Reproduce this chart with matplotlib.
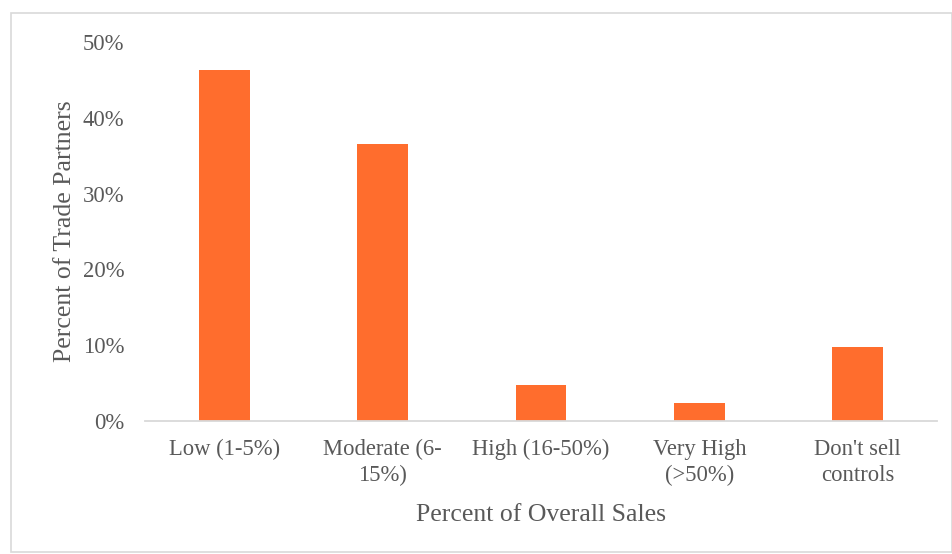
import matplotlib.pyplot as plt
import matplotlib.patches as patches
import numpy as np

categories = ['Low (1-5%)', 'Moderate (6-\n15%)', 'High (16-50%)', 'Very High\n(>50%)', "Don't sell\ncontrols"]
values = [46.3, 36.5, 4.8, 2.4, 9.7]
yticks = [0, 10, 20, 30, 40, 50]

plt.rcParams['font.family'] = ['Liberation Serif', 'DejaVu Serif']
txt = '#595959'

fig = plt.figure(figsize=(9.53, 5.54), dpi=100)
ax = fig.add_axes([145/953, 133/554, 792/953, 379/554])

index = np.arange(len(categories))
ax.bar(index, values, width=0.32, color='#FF6D2D', zorder=2)
ax.set_xlim(-0.5, len(categories) - 0.5)
ax.set_ylim(0, 50)
ax.set_yticks(yticks)
ax.set_yticklabels([str(t) + '%' for t in yticks])
ax.set_xticks(index)
ax.set_xticklabels(categories, linespacing=1.3)

for s in ['top', 'right', 'left']:
    ax.spines[s].set_visible(False)
ax.spines['bottom'].set_color('#D9D9D9')
ax.spines['bottom'].set_linewidth(1.3)
ax.tick_params(axis='both', length=0, labelsize=16.3, colors=txt)
ax.tick_params(axis='y', pad=15)
ax.tick_params(axis='x', pad=13)

ax.set_xlabel('Percent of Overall Sales', fontsize=18.5, color=txt, labelpad=13)
ax.set_ylabel('Percent of Trade Partners', fontsize=18.5, color=txt, labelpad=5)

fig.patches.append(patches.Rectangle((11/953, 2/554), 941/953, 539/554, transform=fig.transFigure,
                                     fill=False, edgecolor='#D9D9D9', linewidth=1.2))

plt.savefig('out.png', dpi=100)
